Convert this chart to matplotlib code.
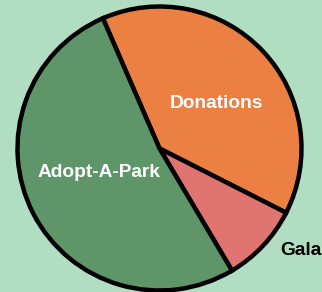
import matplotlib
matplotlib.use("Agg")
import matplotlib.pyplot as plt
import numpy as np

categories = ["Donations", "Gala", "Adopt-A-Park"]
values = [39, 9, 52]
colors = ["#EC8043", "#E07470", "#5E966A"]
label_colors = ["white", "black", "white"]

W, H = 322, 292
cx, cy, R = 159.5, 148.5, 142.0

fig = plt.figure(figsize=(W / 100, H / 100), dpi=100)
fig.patch.set_facecolor("#B1DDC2")
ax = fig.add_axes([0, 0, 1, 1])
ax.set_facecolor("#B1DDC2")
ax.axis("off")

wedges, _ = ax.pie(values, colors=colors, startangle=113.5, counterclock=False,
                   radius=1.0, center=(0, 0),
                   wedgeprops=dict(edgecolor="black", linewidth=3.2))
ax.set_xlim(-cx / R, (W - cx) / R)
ax.set_ylim(-(H - cy) / R, cy / R)
ax.set_aspect("equal")

# label placement (radius fraction, angle in degrees)
label_pos = [(0.51, 38.5), (1.23, -35.8), (0.455, 201.5)]
for name, col, (r, ang) in zip(categories, label_colors, label_pos):
    a = np.deg2rad(ang)
    ax.text(r * np.cos(a), r * np.sin(a), name, color=col, ha="center", va="center",
            fontsize=13.8, fontweight="bold", family=["Liberation Sans", "DejaVu Sans"])

fig.savefig("out.png", dpi=100, facecolor=fig.get_facecolor())
